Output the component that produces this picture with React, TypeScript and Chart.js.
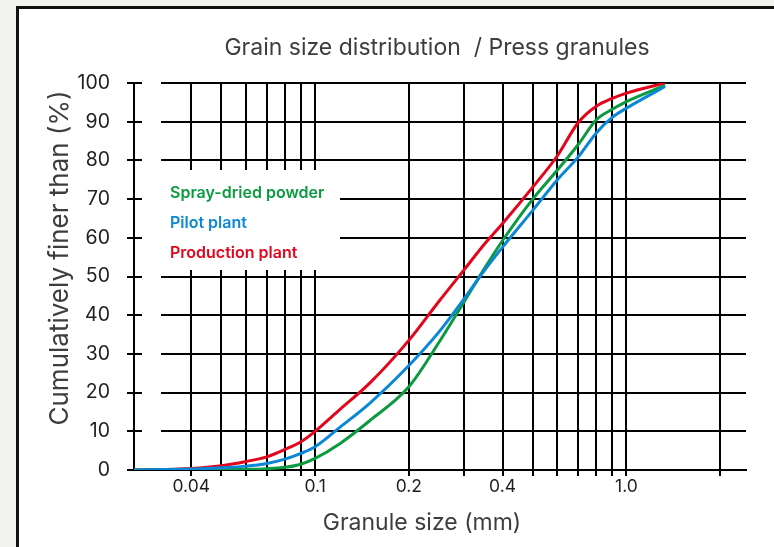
import { useEffect, useRef } from 'react';
import { Chart, registerables } from 'chart.js';
Chart.register(...registerables);

const sizes = [0.0262, 0.04, 0.05, 0.06, 0.07, 0.08, 0.09, 0.1, 0.12, 0.15, 0.2, 0.25, 0.3, 0.35, 0.4, 0.5, 0.6, 0.7, 0.8, 0.9, 1.0, 1.33];
const sprayDried = [0, 0, 0.1, 0.2, 0.35, 0.7, 1.5, 3.0, 6.8, 12.8, 21.5, 33, 43.3, 52.1, 59.3, 70, 77.5, 84.1, 90.5, 93.2, 95.2, 99.4];
const pilotPlant = [0, 0.25, 0.6, 1.0, 1.7, 2.8, 4.3, 6.0, 11.0, 17.3, 27, 35.7, 44.1, 51.6, 57.6, 67.1, 75, 80.9, 87.1, 91.1, 93.5, 99.1];
const productionPlant = [0, 0.4, 1.1, 2.2, 3.4, 5.3, 7.3, 10, 15.6, 22.5, 33.5, 43.6, 51.6, 58.4, 63.7, 73.1, 81.2, 89.8, 94, 96, 97.4, 100];

const xTickValues = [0.04, 0.05, 0.06, 0.07, 0.08, 0.09, 0.1, 0.2, 0.3, 0.4, 0.5, 0.6, 0.7, 0.8, 0.9, 1, 2];
const xTickLabels = ['0.04', '', '', '', '', '', '0.1', '0.2', '', '0.4', '', '', '', '', '', '1.0', ''];

const seriesNames = ['Spray-dried powder', 'Pilot plant', 'Production plant'];
const seriesColors = ['#0b9a3f', '#0a87d6', '#e3051b'];

const titleText = 'Grain size distribution  / Press granules';
const xTitle = 'Granule size (mm)';
const yTitle = 'Cumulatively finer than (%)';

const FONT = 'Inter, "Noto Sans", sans-serif';

const decor = {
  id: 'decor',
  beforeDraw(chart: any) {
    const ctx = chart.ctx;
    ctx.save();
    ctx.fillStyle = '#f2f2ee';
    ctx.fillRect(0, 0, chart.width, chart.height);
    ctx.fillStyle = '#111111';
    ctx.fillRect(16, 6, chart.width, chart.height);
    ctx.fillStyle = '#ffffff';
    ctx.fillRect(19, 9, chart.width, chart.height);
    ctx.restore();
  },
  beforeDatasetsDraw(chart: any) {
    const ctx = chart.ctx;
    const a = chart.chartArea;
    ctx.save();
    ctx.fillStyle = '#ffffff';
    // gap beside the axis
    ctx.fillRect(a.left + 8, a.top - 3, 19, a.bottom - a.top - 1);
    // legend box
    ctx.fillRect(a.left + 8, 170, 198, 100);
    ctx.restore();
  },
  afterDraw(chart: any) {
    const ctx = chart.ctx;
    ctx.save();
    ctx.textBaseline = 'middle';
    ctx.textAlign = 'center';
    ctx.fillStyle = '#3d3d3d';
    ctx.font = `400 23px ${FONT}`;
    ctx.fillText(titleText, 437, 48);
    ctx.font = `400 23px ${FONT}`;
    ctx.fillText(xTitle, 422, 523);
    ctx.translate(60, 258);
    ctx.rotate(-Math.PI / 2);
    ctx.font = `400 26px ${FONT}`;
    ctx.fillText(yTitle, 0, 0);
    ctx.restore();

    ctx.save();
    ctx.textBaseline = 'middle';
    ctx.textAlign = 'left';
    ctx.font = `600 16px ${FONT}`;
    const ys = [193, 223.5, 253.5];
    chart.data.datasets.forEach((ds: any, i: number) => {
      ctx.fillStyle = ds.borderColor;
      ctx.fillText(ds.label, 170, ys[i]);
    });
    ctx.restore();
  },
};

export default function App() {
  const ref = useRef<HTMLCanvasElement>(null);
  useEffect(() => {
    const series = [sprayDried, pilotPlant, productionPlant];
    const orders = [1, 0, 2];
    const chart = new Chart(ref.current as HTMLCanvasElement, {
      type: 'line',
      data: {
        datasets: series.map((vals, i) => ({
          label: seriesNames[i],
          data: sizes.map((s, j) => ({ x: s, y: vals[j] })),
          borderColor: seriesColors[i],
          backgroundColor: seriesColors[i],
          borderWidth: 3,
          pointRadius: 0,
          fill: false,
          cubicInterpolationMode: 'monotone',
          order: orders[i],
        })),
      },
      options: {
        animation: false,
        responsive: false,
        devicePixelRatio: 1,
        layout: { padding: { top: 83, right: 28, left: 0, bottom: 0 } },
        plugins: { legend: { display: false }, tooltip: { enabled: false }, title: { display: false } },
        scales: {
          x: {
            type: 'logarithmic',
            min: 0.0262,
            max: 2.42,
            afterFit: (s: any) => { s.height = 77; },
            afterBuildTicks: (s: any) => { s.ticks = xTickValues.map((v) => ({ value: v })); },
            grid: { color: '#000', lineWidth: 2, tickLength: 6, drawOnChartArea: true },
            border: { display: true, color: '#000', width: 2 },
            ticks: {
              autoSkip: false,
              maxRotation: 0,
              padding: 0,
              color: '#1e1e1e',
              font: { family: FONT, size: 17.5 },
              callback: (_v: any, i: number) => xTickLabels[i],
            },
          },
          y: {
            type: 'linear',
            min: 0,
            max: 100,
            afterFit: (s: any) => { s.width = 134; },
            grid: { color: '#000', lineWidth: 2, tickLength: 7 },
            border: { display: true, color: '#000', width: 2 },
            ticks: {
              stepSize: 10,
              padding: 17,
              color: '#1e1e1e',
              font: { family: FONT, size: 19.5 },
            },
          },
        },
      },
      plugins: [decor],
    } as any);
    return () => chart.destroy();
  }, []);
  return (
    <canvas
      ref={ref}
      width={774}
      height={547}
      style={{ position: 'fixed', left: 0, top: 0, width: 774, height: 547 }}
    />
  );
}
